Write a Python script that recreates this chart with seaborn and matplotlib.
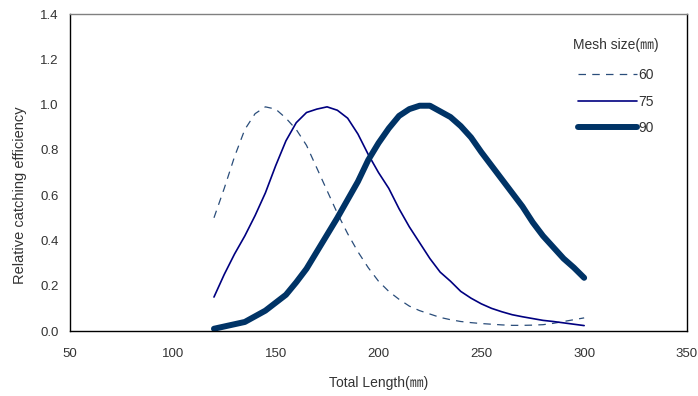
import matplotlib
matplotlib.use('Agg')
import matplotlib.pyplot as plt
import seaborn as sns
import pandas as pd

# 전장(mm) 구간
length = [120, 125, 130, 135, 140, 145, 150, 155, 160, 165, 170, 175, 180,
          185, 190, 195, 200, 205, 210, 215, 220, 225, 230, 235, 240, 245,
          250, 255, 260, 265, 270, 275, 280, 285, 290, 295, 300]

# 망목별 상대 어획효율
eff_60 = [0.50, 0.63, 0.77, 0.89, 0.96, 0.99, 0.98, 0.94, 0.89, 0.82, 0.72,
          0.62, 0.52, 0.43, 0.35, 0.28, 0.22, 0.175, 0.14, 0.11, 0.09, 0.075,
          0.06, 0.05, 0.042, 0.037, 0.033, 0.03, 0.027, 0.025, 0.025, 0.026,
          0.028, 0.034, 0.042, 0.05, 0.058]
eff_75 = [0.15, 0.25, 0.34, 0.42, 0.51, 0.61, 0.73, 0.84, 0.92, 0.965, 0.98,
          0.99, 0.975, 0.94, 0.87, 0.78, 0.70, 0.63, 0.54, 0.46, 0.39, 0.32,
          0.26, 0.22, 0.175, 0.145, 0.12, 0.10, 0.085, 0.072, 0.063, 0.055,
          0.047, 0.042, 0.036, 0.03, 0.024]
eff_90 = [0.01, 0.02, 0.03, 0.04, 0.065, 0.09, 0.125, 0.16, 0.215, 0.275, 0.35,
          0.425, 0.50, 0.58, 0.66, 0.755, 0.83, 0.895, 0.95, 0.98, 0.995, 0.995,
          0.97, 0.945, 0.905, 0.855, 0.79, 0.73, 0.67, 0.61, 0.55, 0.48, 0.42,
          0.37, 0.32, 0.28, 0.235]

mesh_labels = ['60', '75', '90']
x_ticks = [50, 100, 150, 200, 250, 300, 350]
y_ticks = [0.0, 0.2, 0.4, 0.6, 0.8, 1.0, 1.2, 1.4]

sns.set_style('white')
plt.rcParams['font.family'] = ['Liberation Sans', 'Noto Sans CJK KR', 'DejaVu Sans']

df = pd.DataFrame({'length': length, '60': eff_60, '75': eff_75, '90': eff_90})

fig = plt.figure(figsize=(6.98, 3.96), dpi=100)
ax = fig.add_axes([0.1003, 0.1641, 0.8839, 0.8005])

sns.lineplot(x='length', y='60', data=df, ax=ax, color='#2A4D7A',
             linewidth=0.9, label=mesh_labels[0])
ax.lines[-1].set_dashes((6, 5))
sns.lineplot(x='length', y='75', data=df, ax=ax, color='#000080',
             linewidth=1.2, label=mesh_labels[1])
sns.lineplot(x='length', y='90', data=df, ax=ax, color='#003366',
             linewidth=4.3, solid_capstyle='round', label=mesh_labels[2])

ax.set_xlim(50, 350)
ax.set_ylim(0, 1.4)
ax.set_xticks(x_ticks)
ax.set_yticks(y_ticks)
ax.set_yticklabels([f'{v:.1f}' for v in y_ticks])
ax.tick_params(direction='in', length=3, width=0.8, labelsize=9.5,
               colors='black', labelcolor='#333333', pad=12)
ax.tick_params(axis='y', pad=8)

for side in ['left', 'bottom', 'right']:
    ax.spines[side].set_color('black')
    ax.spines[side].set_linewidth(1.0)
ax.spines['top'].set_color('#808080')
ax.spines['top'].set_linewidth(1.0)

ax.set_xlabel('Total Length(㎜)', fontsize=10, color='#333333', labelpad=12)
ax.set_ylabel('Relative catching efficiency', fontsize=10.5, color='#333333')
ax.yaxis.set_label_coords(-0.07, 0.43)

leg = ax.legend(title='Mesh size(㎜)', frameon=False, fontsize=10,
                title_fontsize=10, loc='upper left',
                bbox_to_anchor=(0.795, 0.965), handlelength=4.3,
                handletextpad=0.1, labelspacing=0.9)
leg._legend_box.sep = 12
for t in leg.get_texts():
    t.set_color('#333333')
leg.get_title().set_color('#333333')

fig.savefig('out.png', dpi=100)
